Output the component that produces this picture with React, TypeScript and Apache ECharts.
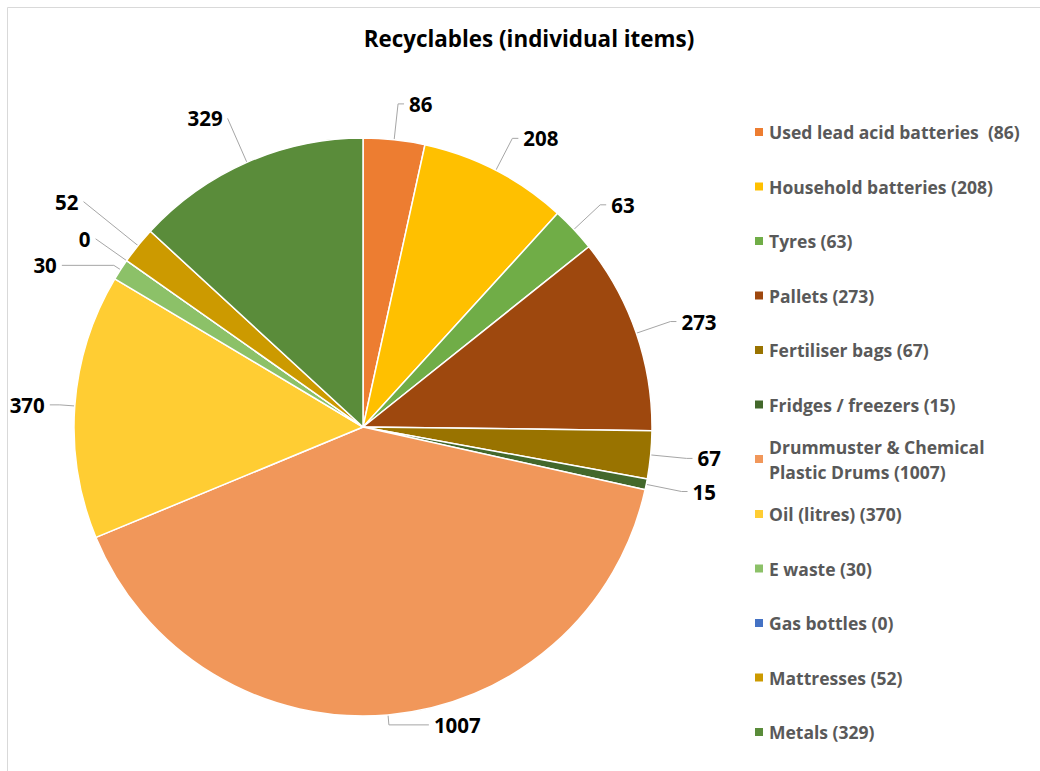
import React, { useEffect, useRef } from "react";
import * as echarts from "echarts";

const categories = [
  "Used lead acid batteries ",
  "Household batteries",
  "Tyres",
  "Pallets",
  "Fertiliser bags",
  "Fridges / freezers",
  "Drummuster & Chemical Plastic Drums",
  "Oil (litres)",
  "E waste",
  "Gas bottles",
  "Mattresses",
  "Metals",
];
const values = [86, 208, 63, 273, 67, 15, 1007, 370, 30, 0, 52, 329];
const colors = [
  "#ED7D31",
  "#FFC000",
  "#70AD47",
  "#9E480E",
  "#997300",
  "#43682B",
  "#F1975A",
  "#FFCD33",
  "#8CC168",
  "#4472C4",
  "#CC9A00",
  "#5A8C3A",
];

const FONT = "'Open Sans'";

// leader-line styling per slice (length, length2)
const leader: Record<number, [number, number]> = {
  6: [10, 40],
  7: [15, 10],
  8: [8, 52],
  9: [38, 0],
  10: [70, 0],
  11: [48, 0],
};

export default function App() {
  const ref = useRef<HTMLDivElement>(null);
  useEffect(() => {
    document.body.style.margin = "0";
    const chart = echarts.init(ref.current!, null, { renderer: "svg" });
    const names = categories.map((c, i) => `${c} (${values[i]})`);
    const data = names.map((n, i) => {
      const item: any = {
        name: n,
        value: values[i],
        itemStyle: { color: colors[i] },
      };
      if (leader[i]) {
        item.labelLine = { length: leader[i][0], length2: leader[i][1] };
      }
      return item;
    });
    const legendText = {
      fontFamily: FONT,
      fontWeight: "bold" as const,
      fontSize: 17.5,
      color: "#595959",
      lineHeight: 24,
    };
    chart.setOption({
      animation: false,
      backgroundColor: "#ffffff",
      title: {
        text: "Recyclables (individual items)",
        left: 524,
        textAlign: "center",
        top: 22,
        textStyle: {
          fontFamily: FONT,
          fontWeight: "bold",
          fontSize: 22.4,
          color: "#000000",
        },
      },
      graphic: [
        {
          type: "rect",
          shape: { x: 7.5, y: 7.5, width: 1100, height: 900 },
          style: { fill: "none", stroke: "#d9d9d9", lineWidth: 1 },
          silent: true,
        },
      ],
      legend: [
        {
          orient: "vertical",
          left: 753,
          top: 120,
          padding: 0,
          itemWidth: 10,
          itemHeight: 10,
          itemGap: 30.5,
          icon: "rect",
          selectedMode: false,
          data: names.slice(0, 6),
          textStyle: legendText,
        },
        {
          orient: "vertical",
          left: 753,
          top: 421.5,
          padding: 0,
          itemWidth: 10,
          itemHeight: 10,
          icon: "rect",
          selectedMode: false,
          data: [names[6]],
          formatter: () => "Drummuster & Chemical\nPlastic Drums (1007)",
          textStyle: { ...legendText, lineHeight: 25, padding: [25, 0, 0, 0] },
        },
        {
          orient: "vertical",
          left: 753,
          top: 502,
          padding: 0,
          itemWidth: 10,
          itemHeight: 10,
          itemGap: 30.5,
          icon: "rect",
          selectedMode: false,
          data: names.slice(7),
          textStyle: legendText,
        },
      ],
      series: [
        {
          type: "pie",
          center: [363, 427],
          radius: 289,
          startAngle: 90,
          clockwise: true,
          avoidLabelOverlap: true,
          data,
          itemStyle: { borderColor: "#ffffff", borderWidth: 1.5 },
          label: {
            show: true,
            position: "outside",
            overflow: "none",
            edgeDistance: 0,
            formatter: (p: any) => String(p.value),
            fontFamily: FONT,
            fontWeight: "bold",
            fontSize: 20.5,
            color: "#000000",
          },
          labelLine: {
            show: true,
            length: 36,
            length2: 6,
            lineStyle: { color: "#a6a6a6", width: 1 },
          },
          emphasis: { disabled: true },
        },
      ],
    });
    return () => chart.dispose();
  }, []);
  return <div ref={ref} style={{ width: 1040, height: 771 }} />;
}
